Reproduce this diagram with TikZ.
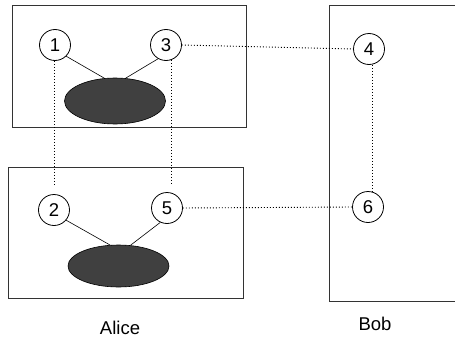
\documentclass[tikz,border=0pt]{standalone}
\usepackage{fontspec}
\setmainfont{Liberation Sans}
\usetikzlibrary{shapes.geometric}
\begin{document}
\begin{tikzpicture}[x=1pt,y=-1pt,
  box/.style={draw=black!80,line width=0.9pt},
  party/.style={circle,draw,line width=0.8pt,minimum size=31pt,inner sep=0pt,font=\fontsize{18.5}{18.5}\selectfont},
  blob/.style={ellipse,draw,fill=black!75,line width=0.6pt,inner sep=0pt},
  link/.style={line width=0.6pt},
  dots/.style={dash pattern=on 1pt off 2pt,line width=0.9pt},
  lbl/.style={font=\fontsize{18.5}{18.5}\selectfont}]
\useasboundingbox (0,0) rectangle (455,340);
% boxes
\draw[box] (12,5) rectangle (246,127);
\draw[box] (8,167) rectangle (243,298);
\draw[box] (329,5) rectangle (458,301);
% shared blobs
\node[blob,minimum width=101pt,minimum height=46pt] (b1) at (115,101) {};
\node[blob,minimum width=101pt,minimum height=42pt] (b2) at (118.5,266) {};
% parties
\node[party] (n1) at (55,45) {1};
\node[party] (n3) at (166,45) {3};
\node[party] (n2) at (54,210) {2};
\node[party] (n5) at (167,208) {5};
\node[party] (n4) at (369,49) {4};
\node[party] (n6) at (368,207) {6};
% solid links to blobs
\draw[link] (n1.-45) -- (b1.115);
\draw[link] (n3.-120) -- (b1.65);
\draw[link] (n2.-40) -- (b2.112);
\draw[link] (n5.-115) -- (b2.60);
% dotted correlations
\draw[dots] ([xshift=-1pt]n1.south) -- ([xshift=-1pt]n1.south |- 0,184) coordinate (e1);
\draw[dots] (n3.-70) -- (n3.-70 |- 0,184) coordinate (e3);
\draw[dots] (n3.east) -- (n4.west);
\draw[dots] (n5.east) -- (n6.west);
\draw[dots] ([xshift=3pt]n4.south) -- ([xshift=3pt]n4.south |- n6.north);
% names
\node[lbl] (alice) at (120,328) {Alice};
\node[lbl] (bob) at (375,324) {Bob};
\end{tikzpicture}
\end{document}
